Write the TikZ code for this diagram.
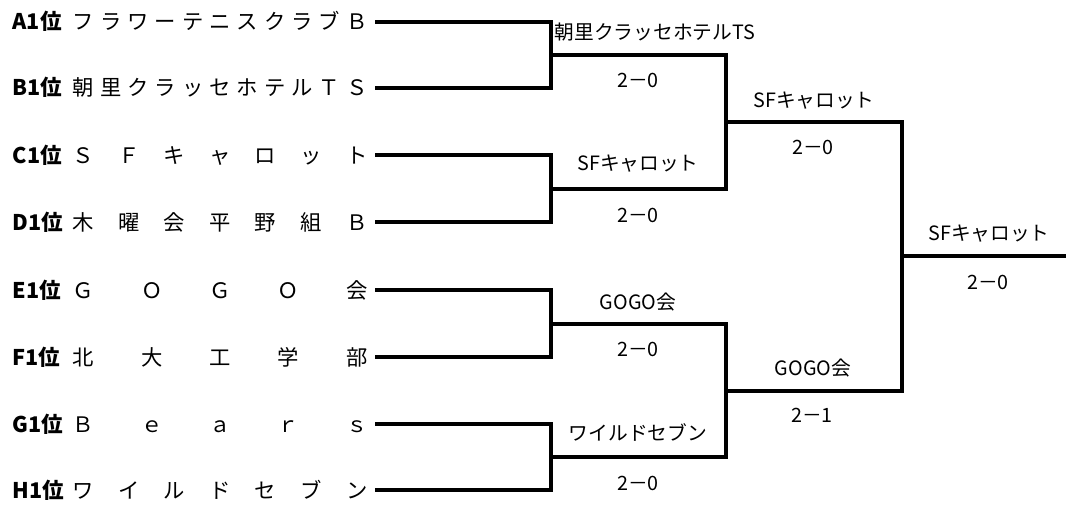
\documentclass[tikz,border=0pt]{standalone}
\usepackage{fontspec}
\setmainfont{Noto Sans CJK JP}
\usepackage{tikz}

% Spread a team name over the full name column.
\newcommand{\spread}[1]{\makebox[221pt][s]{#1}}

\begin{document}
\begin{tikzpicture}[x = 0.75pt, y = -0.75pt, line width = 2.4pt,
        rank/.style = {anchor = west, inner sep = 0pt, text height = 14pt, text depth = 2pt,
            font = \bfseries\fontsize{16.2}{18}\selectfont},
        team/.style = {anchor = east, inner xsep = 4.5pt, inner ysep = 0pt, text height = 14pt,
            text depth = 2pt, font = \fontsize{16}{18}\selectfont},
        result/.style = {inner sep = 0pt, text height = 12.8pt, text depth = 1.8pt,
            font = \fontsize{14.8}{16}\selectfont}]

        % Fix the margins.
        \useasboundingbox (0, 0) rectangle (1066, 506);

        % Positions for all of the matches.
        \coordinate (M1) at (551, 55);
        \coordinate (M2) at (551, 189);
        \coordinate (M3) at (551, 324);
        \coordinate (M4) at (551, 457);
        \coordinate (S1) at (726, 122);
        \coordinate (S2) at (726, 391);
        \coordinate (F) at (902, 256);
        \coordinate (W) at (1066, 256);

        % Label the ranks.
        \node (rA) at (11, 22) [rank] {A1位};
        \node (rB) at (11, 88) [rank] {B1位};
        \node (rC) at (11, 155) [rank] {C1位};
        \node (rD) at (11, 222) [rank] {D1位};
        \node (rE) at (11, 290) [rank] {E1位};
        \node (rF) at (11, 357) [rank] {F1位};
        \node (rG) at (11, 424) [rank] {G1位};
        \node (rH) at (11, 490) [rank] {H1位};

        % Label the teams.
        \node (tA) at (375, 22) [team] {\spread{フ\hfill ラ\hfill ワ\hfill ー\hfill テ\hfill ニ\hfill ス\hfill ク\hfill ラ\hfill ブ\hfill Ｂ}};
        \node (tB) at (375, 88) [team] {\spread{朝\hfill 里\hfill ク\hfill ラ\hfill ッ\hfill セ\hfill ホ\hfill テ\hfill ル\hfill Ｔ\hfill Ｓ}};
        \node (tC) at (375, 155) [team] {\spread{Ｓ\hfill Ｆ\hfill キ\hfill ャ\hfill ロ\hfill ッ\hfill ト}};
        \node (tD) at (375, 222) [team] {\spread{木\hfill 曜\hfill 会\hfill 平\hfill 野\hfill 組\hfill Ｂ}};
        \node (tE) at (375, 290) [team] {\spread{Ｇ\hfill Ｏ\hfill Ｇ\hfill Ｏ\hfill 会}};
        \node (tF) at (375, 357) [team] {\spread{北\hfill 大\hfill 工\hfill 学\hfill 部}};
        \node (tG) at (375, 424) [team] {\spread{Ｂ\hfill ｅ\hfill ａ\hfill ｒ\hfill ｓ}};
        \node (tH) at (375, 490) [team] {\spread{ワ\hfill イ\hfill ル\hfill ド\hfill セ\hfill ブ\hfill ン}};

        % Label the winners and the scores.
        \node (w1) at (553, 32) [result, anchor = west] {朝里クラッセホテルTS};
        \node (p1) at (638, 80) [result] {2－0};
        \node (w2) at (638, 163) [result] {SFキャロット};
        \node (p2) at (638, 215) [result] {2－0};
        \node (w3) at (638, 302) [result] {GOGO会};
        \node (p3) at (638, 349) [result] {2－0};
        \node (w4) at (638, 433) [result] {ワイルドセブン};
        \node (p4) at (638, 483) [result] {2－0};
        \node (w5) at (814, 100) [result] {SFキャロット};
        \node (p5) at (813, 147) [result] {2－0};
        \node (w6) at (813, 368) [result] {GOGO会};
        \node (p6) at (812, 415) [result] {2－1};
        \node (w7) at (989, 233) [result] {SFキャロット};
        \node (p7) at (988, 282) [result] {2－0};

        % Draw the first round.
        \draw (tA.east) -| (M1);
        \draw (tB.east) -| (M1);
        \draw (tC.east) -| (M2);
        \draw (tD.east) -| (M2);
        \draw (tE.east) -| (M3);
        \draw (tF.east) -| (M3);
        \draw (tG.east) -| (M4);
        \draw (tH.east) -| (M4);

        % Draw the semifinals and the final.
        \draw (M1) -| (S1);
        \draw (M2) -| (S1);
        \draw (M3) -| (S2);
        \draw (M4) -| (S2);
        \draw (S1) -| (F);
        \draw (S2) -| (F);
        \draw (F) to (W);
    \end{tikzpicture}
\end{document}
